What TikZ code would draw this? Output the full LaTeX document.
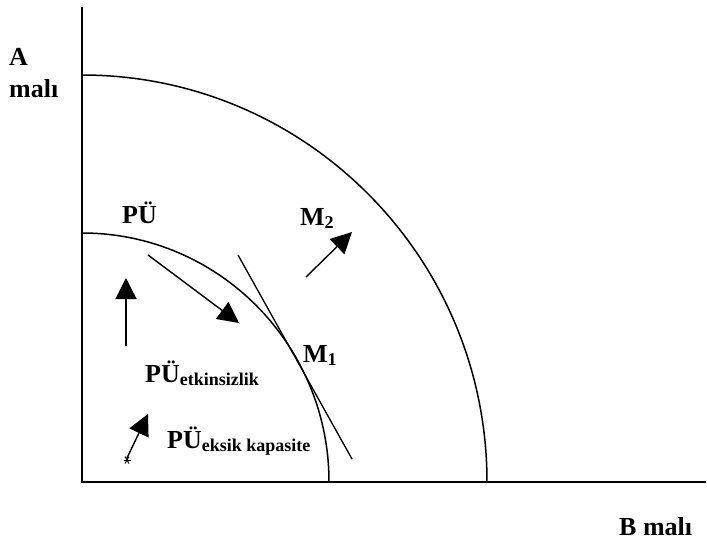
\documentclass[tikz,border=0pt]{standalone}
\usepackage{fontspec}
\setmainfont{Liberation Serif}
\usetikzlibrary{arrows.meta,calc}
\tikzset{
  axisline/.style={line width=1.8pt},
  curveline/.style={line width=1.5pt},
  thinline/.style={line width=1.3pt},
  bigarrow/.style={line width=1.4pt,-{Triangle[length=21pt,width=21pt]}},
  lbl/.style={inner sep=0pt,anchor=base west,font=\bfseries\fontsize{26}{30}\selectfont},
}
\newcommand{\subtxt}[1]{\raisebox{-3pt}{\fontsize{18}{21}\selectfont #1}}
\begin{document}
\begin{tikzpicture}[x=1pt,y=-1pt]
\useasboundingbox (0,0) rectangle (707,546);
% axes
\coordinate (O) at (82,482);
\coordinate (ytop) at (82,7);
\coordinate (xend) at (706,482);
\draw[axisline] (ytop) -- (O) -- (xend);
% production possibility curves
\coordinate (outerB) at (487,482);
\coordinate (innerB) at (329,482);
\draw[curveline] (outerB) arc[start angle=0,end angle=-90,x radius=405,y radius=407];
\draw[curveline] (innerB) arc[start angle=0,end angle=-90,x radius=247,y radius=249];
% tangent line at M1
\coordinate (t1) at (238,255);
\coordinate (t2) at (352,459);
\draw[thinline] (t1) -- (t2);
% arrows
\coordinate (a1s) at (126,346);
\coordinate (a1e) at (126,278);
\draw[bigarrow] (a1s) -- (a1e);
\coordinate (a2s) at (148,255);
\coordinate (a2e) at (239,323);
\draw[bigarrow] (a2s) -- (a2e);
\coordinate (a3s) at (306,277);
\coordinate (a3e) at (352,232);
\draw[bigarrow] (a3s) -- (a3e);
\coordinate (a4s) at (127,458);
\coordinate (a4e) at (148,414);
\draw[bigarrow] (a4s) -- (a4e);
% small star
\coordinate (st) at (127,460);
\draw[line width=1pt] ($(st)+(-3.5,0)$) -- ($(st)+(3.5,0)$);
\draw[line width=1pt] ($(st)+(-2,-3.5)$) -- ($(st)+(2,3.5)$);
\draw[line width=1pt] ($(st)+(2,-3.5)$) -- ($(st)+(-2,3.5)$);
% labels
\node[lbl] (lA) at (9,65) {A};
\node[lbl] (lmali) at (9,97) {malı};
\node[lbl] (lPU) at (122,223) {PÜ};
\node[lbl] (lM2) at (300,225) {M\subtxt{2}};
\node[lbl] (lM1) at (303,362) {M\subtxt{1}};
\node[lbl] (lPUe) at (145,382) {PÜ\subtxt{etkinsizlik}};
\node[lbl] (lPUk) at (167,448) {PÜ\subtxt{eksik kapasite}};
\node[lbl] (lB) at (619,535) {B malı};
\end{tikzpicture}
\end{document}
